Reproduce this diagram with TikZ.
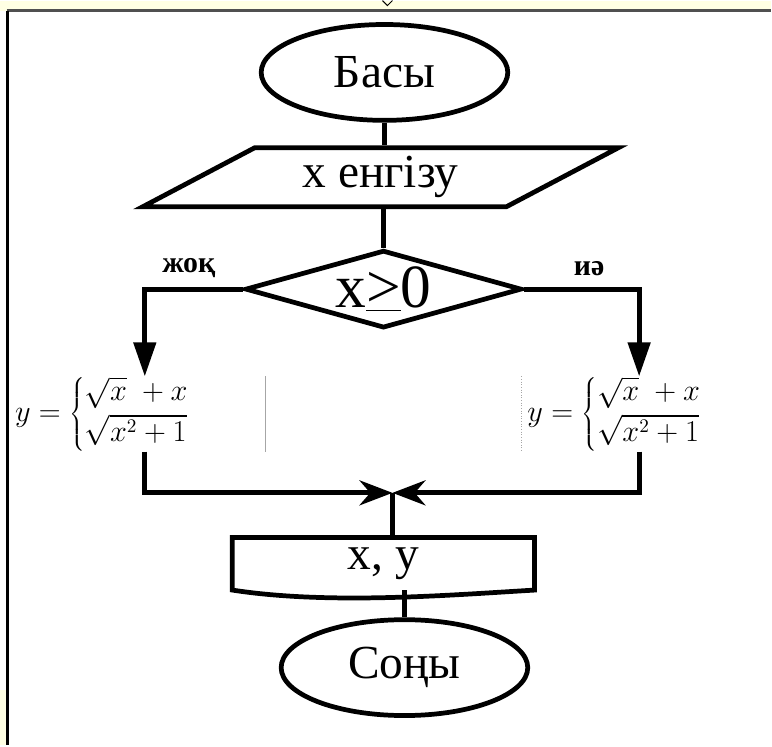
\documentclass[tikz,border=0pt]{standalone}
\usepackage{fontspec}
\setmainfont{Liberation Serif}
\usetikzlibrary{arrows.meta,shapes.geometric}
\definecolor{pagebg}{HTML}{FFFFE3}
\definecolor{framegray}{HTML}{505050}

\begin{document}
\begin{tikzpicture}[
  x=0.02cm, y=-0.02cm,
  >={Triangle[length=0.68cm, width=0.44cm]},
  flowline/.style={line width=2.7pt},
  terminal/.style={ellipse, draw, line width=2.7pt, minimum width=4.94cm,
    minimum height=1.92cm, inner sep=0pt, font=\fontsize{27}{31}\selectfont},
  inputbox/.style={trapezium, trapezium stretches=true, trapezium left angle=31,
    trapezium right angle=149, draw, line width=2.7pt, minimum width=9.54cm,
    minimum height=1.18cm, inner sep=0pt, font=\fontsize{27}{31}\selectfont},
  decision/.style={diamond, draw, line width=2.7pt, aspect=3.5, minimum width=5.54cm,
    minimum height=1.56cm, inner sep=0pt, font=\fontsize{35}{38}\selectfont},
  calcbox/.style={rectangle, minimum height=1.16cm, align=left, inner ysep=0pt,
    font=\fontsize{16}{19}\selectfont},
  outputbox/.style={rectangle, minimum width=6.04cm, minimum height=1.04cm,
    inner sep=0pt, font=\fontsize{27}{31}\selectfont},
  branchlabel/.style={font=\fontsize{17}{19}\selectfont\bfseries},
  edgeline/.style={gray!70, line width=0.5pt}
]
  \fill[pagebg] (0,0) rectangle (772,745);
  \fill[white] (0,10) rectangle (772,690);
  \fill[white] (8,10) rectangle (772,745);
  \draw[framegray, line width=1.2pt] (7,10) -- (772,10);
  \draw[line width=1.7pt] (8,10) -- (8,745);
  \draw[line width=0.6pt] (383,0) -- (388,5) -- (393,0);

  \node[terminal] (start) at (385,72) {Басы};
  \node[inputbox] (input) at (381,177) {x енгізу};
  \node[decision] (check) at (384,289) {x\underline{>}0};
  \node[branchlabel] (nolabel) at (189,268) {жоқ};
  \node[branchlabel] (yeslabel) at (590,268) {иә};

  \node[calcbox, text width=4.86cm, inner xsep=0.14cm] (leftcalc) at (136.5,414)
    {$y=\left\{\begin{array}{@{}l@{}}\sqrt{x}\;+x\\[2pt] \sqrt{x^2+1}\end{array}\right.$};
  \node[calcbox, text width=4.52cm, inner xsep=0.12cm] (rightcalc) at (641,414)
    {$y=\left\{\begin{array}{@{}l@{}}\sqrt{x}\;+x\\[2pt] \sqrt{x^2+1}\end{array}\right.$};
  \draw[edgeline] (leftcalc.north east) -- (leftcalc.south east);
  \draw[edgeline, densely dotted] (rightcalc.north west) -- (rightcalc.south west);

  \node[outputbox] (output) at (384,564) {x, y};
  \draw[line width=2.7pt] (output.south west) -- (output.north west) -- (output.north east)
    -- (output.south east) .. controls ([xshift=-1.7cm, yshift=-0.1cm]output.south east)
    and ([xshift=1.94cm, yshift=-0.3cm]output.south west) .. (output.south west) -- cycle;
  \node[terminal] (finish) at (405,668) {Соңы};

  \coordinate (noturn) at (145,289);
  \coordinate (yesturn) at (640,289);
  \coordinate (merge) at (393,493);

  \draw[flowline] (start.south) -- (start.south |- input.north);
  \draw[flowline] (check.north |- input.south) -- (check.north);
  \draw[flowline, ->] (check.west) -- (noturn) -- (noturn |- leftcalc.north);
  \draw[flowline, ->] (check.east) -- (yesturn) -- (yesturn |- rightcalc.north);
  \draw[flowline, -{Stealth[length=0.66cm, width=0.5cm]}] (noturn |- leftcalc.south) |- (merge);
  \draw[flowline, -{Stealth[length=0.66cm, width=0.5cm]}] (yesturn |- rightcalc.south) |- (merge);
  \draw[flowline] (merge) -- (merge |- output.north);
  \draw[flowline] (finish.north |- output.south) -- (finish.north);
\end{tikzpicture}
\end{document}
